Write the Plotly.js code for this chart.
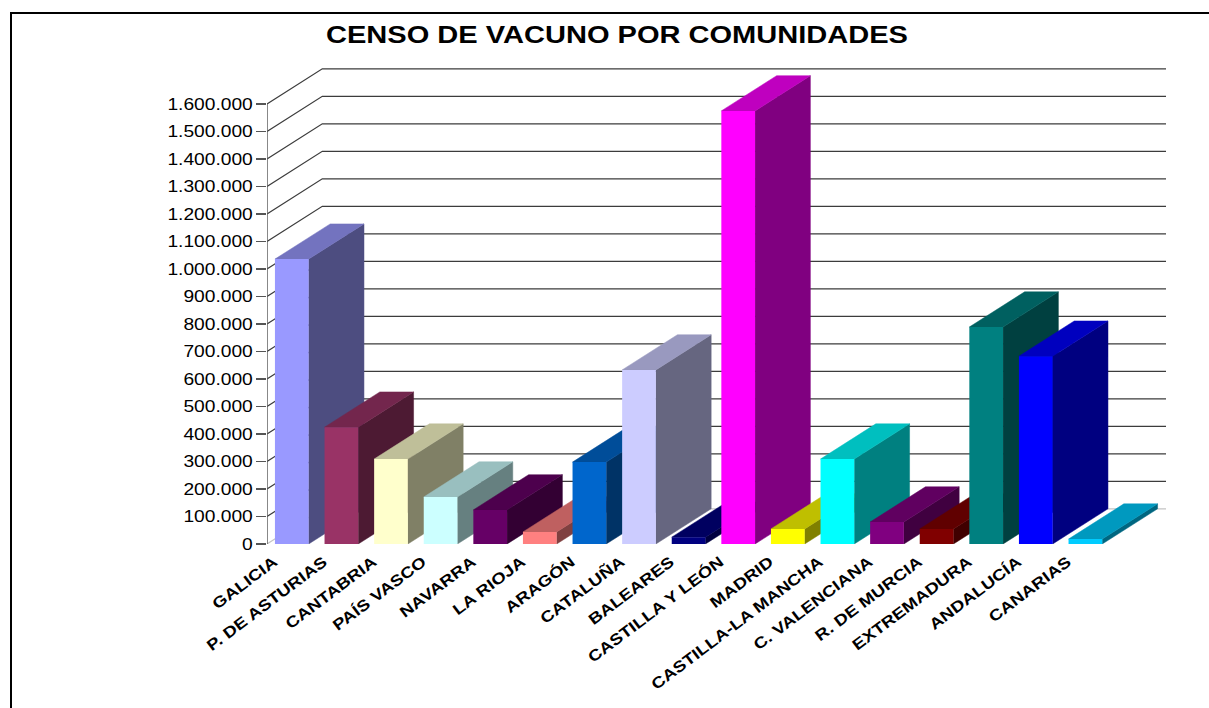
<!DOCTYPE html>
<html>
<head>
<meta charset="utf-8">
<script src="https://cdn.plot.ly/plotly-3.0.1.min.js"></script>
<style>
html,body{margin:0;padding:0;background:#fff;overflow:hidden}
#frame{position:absolute;left:10px;top:12px;width:1199px;height:696px;border-top:2px solid #000;border-left:2px solid #000;box-sizing:border-box;z-index:2;pointer-events:none}
#chart{position:absolute;left:0;top:0;width:1209px;height:708px}
</style>
</head>
<body>
<div id="chart"></div>
<div id="frame"></div>
<script>
const categories = ["GALICIA","P. DE ASTURIAS","CANTABRIA","PAÍS VASCO","NAVARRA","LA RIOJA","ARAGÓN","CATALUÑA","BALEARES","CASTILLA Y LEÓN","MADRID","CASTILLA-LA MANCHA","C. VALENCIANA","R. DE MURCIA","EXTREMADURA","ANDALUCÍA","CANARIAS"];
const censo = [1036000,425000,309000,171000,124000,44000,298000,633000,25000,1575000,55000,309000,80000,55000,789000,683000,18000];
const frontColors = ["#9999FF","#993366","#FFFFCC","#CCFFFF","#660066","#FF8080","#0066CC","#CCCCFF","#000080","#FF00FF","#FFFF00","#00FFFF","#800080","#800000","#008080","#0000FF","#00CCFF"];
const yTicks = [0,100000,200000,300000,400000,500000,600000,700000,800000,900000,1000000,1100000,1200000,1300000,1400000,1500000,1600000];
const yTickText = ["0","100.000","200.000","300.000","400.000","500.000","600.000","700.000","800.000","900.000","1.000.000","1.100.000","1.200.000","1.300.000","1.400.000","1.500.000","1.600.000"];

const DX = 1.115, DY = 128000, BW = 0.68;
const X0 = -0.5, XMAX = 17.625, YMAX = 1760000;

function shade(hex, k){
  const n = parseInt(hex.slice(1),16);
  const c = [(n>>16)&255,(n>>8)&255,n&255].map(v=>Math.round(v*k));
  return `rgb(${c.join(",")})`;
}
function poly(xs, ys, color, z){
  return {type:"scatter",mode:"lines",x:xs,y:ys,fill:"toself",fillcolor:color,
    line:{color:color,width:0.5},hoverinfo:"skip",showlegend:false,zorder:z,cliponaxis:false};
}

const traces = [];
// Wall and floor rules
yTicks.forEach((v,k)=>{
  traces.push({type:"scatter",mode:"lines",x:[X0,X0+DX,XMAX],y:[v,v+DY,v+DY],
    line:{color:k===0?"#c4c4c4":"#3c3c3c",width:1.2},hoverinfo:"skip",showlegend:false,zorder:0,cliponaxis:false});
});
traces.push({type:"scatter",mode:"lines",x:[X0,X0],y:[yTicks[0],yTicks[yTicks.length-1]],
  line:{color:"#555",width:1.4},hoverinfo:"skip",showlegend:false,zorder:0,cliponaxis:false});

// Bars, drawn left to right so each covers the previous one
censo.forEach((v,i)=>{
  const a = i-BW/2, b = i+BW/2, base = 1+i*3;
  traces.push(poly([b,b+DX,b+DX,b,b],[0,DY,v+DY,v,0],shade(frontColors[i],0.5),base));
  traces.push(poly([a,b,b+DX,a+DX,a],[v,v,v+DY,v+DY,v],shade(frontColors[i],0.75),base+1));
  traces.push({type:"bar",x:[i],y:[v],width:[BW],marker:{color:frontColors[i],line:{width:0}},
    hoverinfo:"skip",showlegend:false,zorder:base+2});
});

const layout = {
  width:1209,height:708,autosize:false,
  margin:{l:267,r:43,t:60,b:164,pad:0},
  paper_bgcolor:"#fff",plot_bgcolor:"rgba(0,0,0,0)",
  barmode:"overlay",hovermode:false,showlegend:false,
  title:{text:"<b>CENSO DE VACUNO POR COMUNIDADES</b>",
    font:{family:"Liberation Sans",size:24,color:"#000"},
    x:617/1209,xref:"container",xanchor:"center",y:1-35/708,yref:"container",yanchor:"middle"},
  xaxis:{range:[X0,XMAX],tickmode:"array",tickvals:categories.map((_,i)=>i),ticktext:categories,
    tickangle:-37,ticks:"",showgrid:false,zeroline:false,showline:false,
    tickfont:{family:"Liberation Sans",size:15.5,color:"#000",weight:700},
    ticklabelshift:-18,ticklabelstandoff:5,automargin:false},
  yaxis:{range:[0,YMAX],tickmode:"array",tickvals:yTicks,ticktext:yTickText,
    ticks:"outside",ticklen:10,tickwidth:1.4,tickcolor:"#555",showgrid:false,zeroline:false,showline:false,
    tickfont:{family:"Liberation Sans",size:16,color:"#000"},automargin:false}
};

function stretch(sel,k){
  document.querySelectorAll(sel).forEach(t=>{
    const w = t.getComputedTextLength();
    t.setAttribute("textLength",(w*k).toFixed(1));
    t.setAttribute("lengthAdjust","spacingAndGlyphs");
  });
}
Plotly.newPlot("chart",traces,layout,{displayModeBar:false,staticPlot:true}).then(()=>{
  stretch(".xtick text",1.2);
  stretch(".ytick text",1.2);
  const t = document.querySelector(".gtitle");
  if(t){ t.setAttribute("textLength","582"); t.setAttribute("lengthAdjust","spacingAndGlyphs"); }
});
</script>
</body>
</html>
